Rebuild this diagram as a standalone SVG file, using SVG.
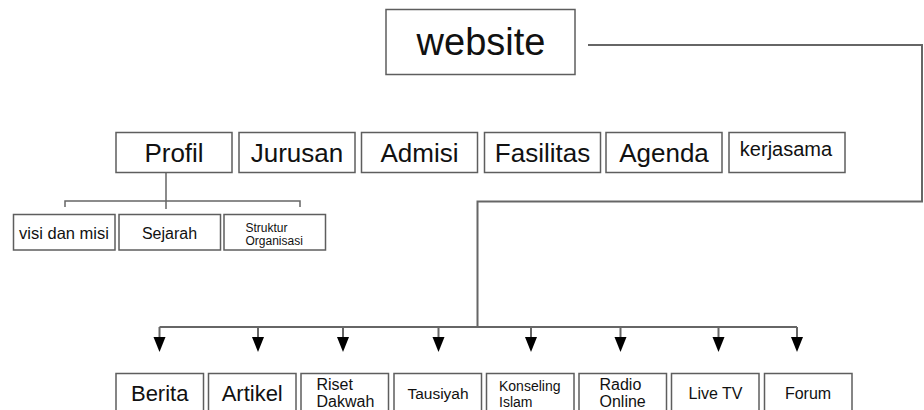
<svg xmlns="http://www.w3.org/2000/svg" width="924" height="410" viewBox="0 0 924 410">
<style>
.box{fill:#fff;stroke:#5e5e5e;stroke-width:1.5}
.t{font-family:"Liberation Sans",Arial,sans-serif;fill:#111}
.c{text-anchor:middle}
.ln{fill:none;stroke:#666;stroke-width:2}
</style>
<defs>
<path id="ah" d="M0,0 h12 l-6,15 z" fill="#000"/>
</defs>
<rect width="924" height="410" fill="#fff"/>
<g id="connectors">
<path class="ln" d="M588,45 H922 V201.5 H477.5 V327"/>
<path class="ln" d="M159.5,327 H797"/>
<path class="ln" d="M159.5,327 V338 M258,327 V338 M343,327 V338 M438.5,327 V338 M531,327 V338 M620.5,327 V338 M718.5,327 V338 M797,327 V338"/>
<use href="#ah" x="153.5" y="337"/>
<use href="#ah" x="252" y="337"/>
<use href="#ah" x="337" y="337"/>
<use href="#ah" x="432.5" y="337"/>
<use href="#ah" x="525" y="337"/>
<use href="#ah" x="614.5" y="337"/>
<use href="#ah" x="712.5" y="337"/>
<use href="#ah" x="791" y="337"/>
<path class="ln" style="stroke-width:1.5" d="M166,172 V209 M65,207 V201 H300 V207"/>
</g>
<g id="website"><rect class="box" x="386" y="9.5" width="189" height="65"/><text class="t c" x="481" y="55" font-size="38">website</text></g>
<g id="profil"><rect class="box" x="116" y="132.5" width="116" height="40"/><text class="t c" x="174" y="162" font-size="26">Profil</text></g>
<g id="jurusan"><rect class="box" x="239" y="132.5" width="116" height="40"/><text class="t c" x="297" y="162" font-size="26">Jurusan</text></g>
<g id="admisi"><rect class="box" x="361.5" y="132.5" width="116" height="40"/><text class="t c" x="419.5" y="162" font-size="26">Admisi</text></g>
<g id="fasilitas"><rect class="box" x="484.5" y="132.5" width="116" height="40"/><text class="t c" x="542.5" y="162" font-size="26">Fasilitas</text></g>
<g id="agenda"><rect class="box" x="606" y="132.5" width="116" height="40"/><text class="t c" x="664" y="162" font-size="26">Agenda</text></g>
<g id="kerjasama"><rect class="box" x="729" y="132.5" width="116" height="40"/><text class="t c" x="786" y="156" font-size="20">kerjasama</text></g>
<g id="visi"><rect class="box" x="13.5" y="214.5" width="101.5" height="35.5"/><text class="t c" x="64" y="238.5" font-size="16.5">visi dan misi</text></g>
<g id="sejarah"><rect class="box" x="119" y="214.5" width="101.5" height="35.5"/><text class="t c" x="169.5" y="238.5" font-size="16">Sejarah</text></g>
<g id="struktur"><rect class="box" x="224" y="214.5" width="101.5" height="35.5"/><text class="t" font-size="12"><tspan x="245.5" y="232">Struktur</tspan><tspan x="245.5" y="245">Organisasi</tspan></text></g>
<g id="berita"><rect class="box" x="116" y="373.5" width="87.5" height="45"/><text class="t c" x="159.7" y="401" font-size="22">Berita</text></g>
<g id="artikel"><rect class="box" x="208.5" y="373.5" width="87.5" height="45"/><text class="t c" x="252.2" y="401" font-size="22">Artikel</text></g>
<g id="riset"><rect class="box" x="301" y="373.5" width="87.5" height="45"/><text class="t" font-size="16"><tspan x="316.5" y="390">Riset</tspan><tspan x="316.5" y="407">Dakwah</tspan></text></g>
<g id="tausiyah"><rect class="box" x="394" y="373.5" width="87.5" height="45"/><text class="t c" x="438" y="398.5" font-size="15.5">Tausiyah</text></g>
<g id="konseling"><rect class="box" x="486.5" y="373.5" width="87.5" height="45"/><text class="t" font-size="14"><tspan x="499" y="390.5">Konseling</tspan><tspan x="499" y="406.5">Islam</tspan></text></g>
<g id="radio"><rect class="box" x="579" y="373.5" width="87.5" height="45"/><text class="t" font-size="16"><tspan x="599.5" y="389.5">Radio</tspan><tspan x="599.5" y="407">Online</tspan></text></g>
<g id="livetv"><rect class="box" x="671.5" y="373.5" width="87.5" height="45"/><text class="t c" x="715.5" y="398.5" font-size="16">Live TV</text></g>
<g id="forum"><rect class="box" x="764.5" y="373.5" width="87.5" height="45"/><text class="t c" x="808" y="398.5" font-size="16">Forum</text></g>
</svg>
